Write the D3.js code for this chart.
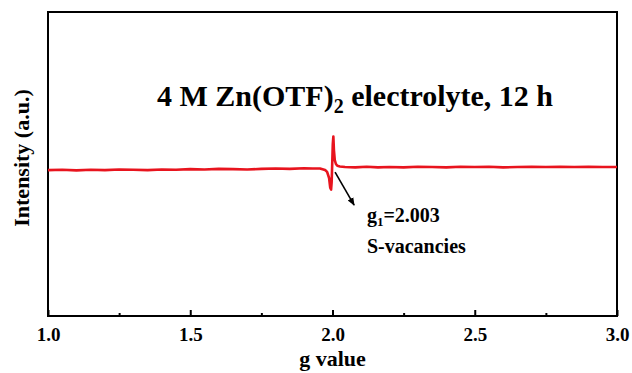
<!DOCTYPE html>
<html>
<head>
<meta charset="utf-8">
<script src="https://cdn.jsdelivr.net/npm/d3@7"></script>
<style>
  html, body { margin: 0; padding: 0; background: #fff; }
  svg { display: block; }
  svg text { font-family: "Liberation Serif", "Times New Roman", Tinos, "DejaVu Serif", serif !important; font-weight: bold; }
</style>
</head>
<body>
<svg id="chart" width="632" height="373"></svg>
<script>
// ---- data ----
const gValues = [1.00, 1.05, 1.10, 1.15, 1.20, 1.25, 1.30, 1.35, 1.40, 1.45, 1.50, 1.55, 1.60, 1.65, 1.70, 1.75, 1.80, 1.85, 1.90, 1.93, 1.956, 1.974, 1.981, 1.988, 1.992, 1.995, 1.997, 1.999, 2.001, 2.003, 2.005, 2.008, 2.012, 2.017, 2.026, 2.044, 2.08, 2.12, 2.16, 2.20, 2.25, 2.30, 2.35, 2.40, 2.45, 2.50, 2.55, 2.60, 2.65, 2.70, 2.75, 2.80, 2.85, 2.90, 2.95, 3.00];
const intensity = [48.0, 48.1, 47.9, 48.1, 48.0, 48.2, 48.1, 48.0, 48.2, 48.1, 48.3, 48.2, 48.4, 48.3, 48.2, 48.4, 48.5, 48.4, 48.6, 48.5, 48.5, 48.0, 47.4, 45.4, 42.2, 41.6, 44.0, 50.0, 56.5, 59.0, 54.6, 51.3, 50.0, 49.4, 49.2, 49.0, 48.9, 49.1, 48.9, 49.0, 48.9, 49.1, 49.0, 48.9, 49.1, 49.0, 49.1, 48.9, 49.0, 49.1, 49.0, 49.1, 49.0, 49.1, 49.0, 49.0];
const majorTicks = [1.0, 1.5, 2.0, 2.5, 3.0];
const minorTicks = [1.25, 1.75, 2.25, 2.75];
const titleMain = "4 M Zn(OTF)";
const titleSub = "2";
const titleRest = " electrolyte, 12 h";
const xLabel = "g value";
const yLabel = "Intensity (a.u.)";
const annotG = "g";
const annotSub = "1";
const annotVal = "=2.003";
const annotLine2 = "S-vacancies";
const arrowFrom = [2.009, 47.3];
const arrowTo = [2.076, 36.5];
const annotPos = [2.121, 30.8];

// ---- layout ----
const svg = d3.select("#chart");
const L = 48, R = 617, T = 12, B = 316;
const x = d3.scaleLinear().domain([1, 3]).range([L, R]);
const y = d3.scaleLinear().domain([0, 100]).range([B, T]);
const SERIF = "'Liberation Serif', 'Times New Roman', Tinos, 'DejaVu Serif', serif";

svg.append("rect").attr("width", 632).attr("height", 373).attr("fill", "#fff");

// frame
svg.append("rect")
  .attr("x", L).attr("y", T).attr("width", R - L).attr("height", B - T)
  .attr("fill", "none").attr("stroke", "#000").attr("stroke-width", 2);

// x axis ticks (inward)
const xAxis = d3.axisBottom(x).tickValues(majorTicks).tickSizeInner(-6).tickSizeOuter(0)
  .tickFormat(d3.format(".1f")).tickPadding(12);
const gx = svg.append("g").attr("transform", `translate(0,${B})`).call(xAxis)
  .attr("font-family", SERIF);
gx.select(".domain").remove();
gx.selectAll(".tick line").attr("stroke", "#000").attr("stroke-width", 2);
gx.selectAll(".tick text").attr("font-size", 19).attr("font-family", SERIF)
  .attr("font-weight", "bold").attr("fill", "#000");

const xMinor = d3.axisBottom(x).tickValues(minorTicks).tickSizeInner(-3).tickSizeOuter(0).tickFormat("");
const gm = svg.append("g").attr("transform", `translate(0,${B})`).call(xMinor);
gm.select(".domain").remove();
gm.selectAll(".tick line").attr("stroke", "#000").attr("stroke-width", 2);

// data line
const line = d3.line().x((d, i) => x(gValues[i])).y(d => y(d));
svg.append("path").datum(intensity)
  .attr("d", line).attr("fill", "none").attr("stroke", "#e8141e")
  .attr("stroke-width", 2.6).attr("stroke-linejoin", "round");

// axis labels
svg.append("text").attr("x", (L + R) / 2).attr("y", 366).attr("text-anchor", "middle")
  .attr("font-family", SERIF).attr("font-size", 22).text(xLabel);
svg.append("text").attr("transform", `translate(29,158) rotate(-90)`)
  .attr("font-family", SERIF).attr("text-anchor", "middle").attr("font-size", 22).text(yLabel);

// title
const title = svg.append("text").attr("x", 157).attr("y", 106).attr("font-size", 30).attr("font-family", SERIF);
title.append("tspan").text(titleMain);
title.append("tspan").attr("font-size", 20).attr("dy", 7).text(titleSub);
title.append("tspan").attr("dy", -7).text(titleRest);

// arrow
const defs = svg.append("defs");
defs.append("marker").attr("id", "ah").attr("viewBox", "0 0 10 10")
  .attr("refX", 9).attr("refY", 5).attr("markerWidth", 5).attr("markerHeight", 5)
  .attr("orient", "auto").attr("markerUnits", "strokeWidth")
  .append("path").attr("d", "M0,1 L10,5 L0,9 Z").attr("fill", "#000");
svg.append("line")
  .attr("x1", x(arrowFrom[0])).attr("y1", y(arrowFrom[1]))
  .attr("x2", x(arrowTo[0])).attr("y2", y(arrowTo[1]))
  .attr("stroke", "#000").attr("stroke-width", 1.6).attr("marker-end", "url(#ah)");

// annotation
const a1 = svg.append("text").attr("x", x(annotPos[0])).attr("y", y(annotPos[1])).attr("font-size", 20).attr("font-family", SERIF);
a1.append("tspan").text(annotG);
a1.append("tspan").attr("font-size", 13).attr("dy", 4).text(annotSub);
a1.append("tspan").attr("dy", -4).text(annotVal);
svg.append("text").attr("x", x(annotPos[0])).attr("y", y(annotPos[1]) + 31).attr("font-size", 20)
  .attr("font-family", SERIF).text(annotLine2);
</script>
</body>
</html>
